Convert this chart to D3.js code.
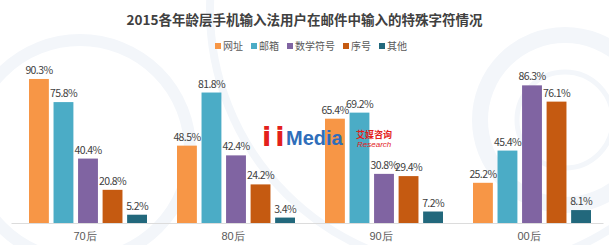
<!DOCTYPE html>
<html>
<head>
<meta charset="utf-8">
<style>
    body { margin: 0; background: #fff; }
    svg { display: block; font-family: "Noto Sans CJK SC", "Noto Sans", sans-serif; }
    .title { font-size: 13.5px; font-weight: bold; fill: #404040; }
    .legend text { font-size: 10px; fill: #595959; }
    .val { font-size: 10.5px; letter-spacing: -0.6px; fill: #404040; }
    .x .tick text { font-size: 11px; fill: #595959; }
    .x .tick line { display: none; }
    .x .domain { stroke: #dcdcdc; }
</style>
</head>
<body>
<svg width="609" height="245"></svg>
<script src="https://d3js.org/d3.v7.min.js"></script>
<script>
// data
let groups = ["70后", "80后", "90后", "00后"]
let series = ["网址", "邮箱", "数学符号", "序号", "其他"]
let colors = ["#F79646", "#4BACC6", "#8064A2", "#C55A11", "#22687C"]
let url = [90.3, 48.5, 65.4, 25.2]
let mail = [75.8, 81.8, 69.2, 45.4]
let math = [40.4, 42.4, 30.8, 86.3]
let order = [20.8, 24.2, 29.4, 76.1]
let other = [5.2, 3.4, 7.2, 8.1]

let values = [url, mail, math, order, other]
let rows = groups.map((g, i) => ({ group: g, vals: series.map((s, j) => ({ key: s, v: values[j][i] })) }))

let svg = d3.select("svg")
let width = 609, height = 245
let margin = { top: 60, bottom: 22, left: 11, right: 6 }

// faint background rings
let bg = svg.append("g").attr("fill", "none").attr("stroke", "#f3f6fa")
bg.append("circle").attr("cx", 80).attr("cy", 150).attr("r", 110).attr("stroke-width", 12)
bg.append("circle").attr("cx", 565).attr("cy", 120).attr("r", 85).attr("stroke-width", 16)
bg.append("circle").attr("cx", 565).attr("cy", 120).attr("r", 48).attr("stroke-width", 5)
bg.append("circle").attr("cx", 470).attr("cy", 10).attr("r", 260).attr("stroke-width", 8)

let color = d3.scaleOrdinal().domain(series).range(colors)

let x = d3.scaleBand().domain(groups).range([margin.left, width - margin.right]).padding(0)
let xi = d3.scaleBand().domain(series).range([18, 18 + 5 * 23.6]).paddingInner(0.19).paddingOuter(0)
let y = d3.scaleLinear().domain([0, 100]).range([height - margin.bottom, height - margin.bottom - 159.5])

svg.append("g")
    .attr("class", "x axis")
    .attr("transform", `translate(0, ${height - margin.bottom})`)
    .call(d3.axisBottom(x).tickSize(0).tickPadding(9))

let g = svg.append("g").selectAll("g")
    .data(rows)
    .join("g")
    .attr("transform", d => `translate(${x(d.group)}, 0)`)

g.selectAll("rect")
    .data(d => d.vals)
    .join("rect")
    .attr("x", d => xi(d.key))
    .attr("width", xi.bandwidth())
    .attr("y", d => y(d.v))
    .attr("height", d => y(0) - y(d.v))
    .attr("fill", d => color(d.key))

g.selectAll(".val")
    .data(d => d.vals)
    .join("text")
    .attr("class", "val")
    .attr("x", d => xi(d.key) + xi.bandwidth() / 2)
    .attr("y", d => y(d.v) - 5)
    .attr("text-anchor", "middle")
    .text(d => d.v.toFixed(1) + "%")

// watermark logo, sits over the bars
let wm = svg.append("g").attr("font-family", "Liberation Sans, Arial, sans-serif").attr("font-weight", "bold")
wm.append("text").attr("x", 262).attr("y", 146).attr("font-size", 27).attr("fill", "#E3201B")
    .attr("font-family", "DejaVu Sans").attr("letter-spacing", 4).text("ii")
wm.append("text").attr("x", 286).attr("y", 145).attr("font-size", 20).attr("fill", "#2F6EBA").text("Media")
wm.append("text").attr("x", 356).attr("y", 138).attr("font-size", 9).attr("fill", "#E3201B")
    .attr("font-family", "Noto Sans CJK SC").text("艾媒咨询")
wm.append("text").attr("x", 357).attr("y", 147).attr("font-size", 8).attr("fill", "#E3201B")
    .attr("font-style", "italic").attr("font-weight", "normal").text("Research")

svg.append("text")
    .attr("class", "title")
    .attr("x", width / 2)
    .attr("y", 25)
    .attr("text-anchor", "middle")
    .text("2015各年龄层手机输入法用户在邮件中输入的特殊字符情况")

// legend
let legend = svg.append("g").attr("class", "legend")
let lx = 215
series.forEach(s => {
    legend.append("rect").attr("x", lx).attr("y", 43).attr("width", 6).attr("height", 6).attr("fill", color(s))
    let t = legend.append("text").attr("x", lx + 8).attr("y", 50).text(s)
    lx += 8 + t.node().getComputedTextLength() + 8
})
</script>
</body>
</html>
